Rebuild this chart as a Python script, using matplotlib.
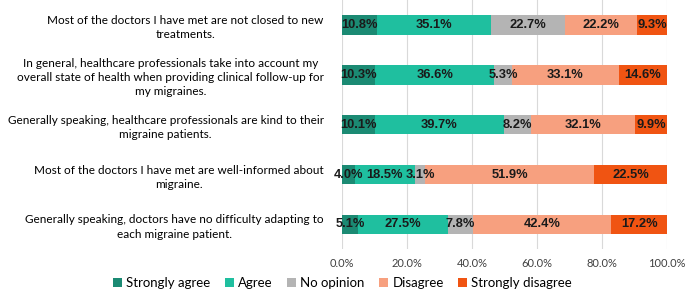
import matplotlib.pyplot as plt
import numpy as np

statements = [
    "Most of the doctors I have met are not closed to new\ntreatments.",
    "In general, healthcare professionals take into account my\noverall state of health when providing clinical follow-up for\nmy migraines.",
    "Generally speaking, healthcare professionals are kind to their\nmigraine patients.",
    "Most of the doctors I have met are well-informed about\nmigraine.",
    "Generally speaking, doctors have no difficulty adapting to\neach migraine patient.",
]
categories = ["Strongly agree", "Agree", "No opinion", "Disagree", "Strongly disagree"]
strongly_agree = [10.8, 10.3, 10.1, 4.0, 5.1]
agree = [35.1, 36.6, 39.7, 18.5, 27.5]
no_opinion = [22.7, 5.3, 8.2, 3.1, 7.8]
disagree = [22.2, 33.1, 32.1, 51.9, 42.4]
strongly_disagree = [9.3, 14.6, 9.9, 22.5, 17.2]
colors = ["#1b8a73", "#1fbf9f", "#b4b4b4", "#f7a07f", "#f05412"]

series = [strongly_agree, agree, no_opinion, disagree, strongly_disagree]

fig = plt.figure(figsize=(6.85, 2.98), dpi=100)
ax = fig.add_axes([0.499, 0.163, 0.475, 0.837])

y = np.arange(len(statements))
left = np.zeros(len(statements))
for vals, name, c in zip(series, categories, colors):
    vals = np.array(vals)
    ax.barh(y, vals, left=left, height=0.39, color=c, label=name, zorder=2)
    for yi, l, v in zip(y, left, vals):
        ax.text(l + v / 2, yi, f"{v:.1f}%", ha="center", va="center",
                fontsize=9.3, fontweight="bold", family="Liberation Sans",
                color="#1a1a1a", zorder=3)
    left += vals

ax.set_xlim(0, 100)
ax.set_ylim(len(statements) - 0.5, -0.5)
ax.set_xticks(np.arange(0, 101, 20))
ax.set_xticklabels([f"{t:.1f}%" for t in range(0, 101, 20)],
                   family="Lato", fontsize=8, color="#404040")
ax.set_yticks(y)
ax.set_yticklabels(statements, family="Lato", fontsize=8.5, ha="right",
                   multialignment="center", linespacing=1.35)
ax.tick_params(axis="y", length=0, pad=13)
ax.tick_params(axis="x", length=0, pad=6)
ax.grid(axis="x", color="#d9d9d9", lw=0.8, zorder=0)
for s in ax.spines.values():
    s.set_visible(False)

leg = fig.legend(loc="lower center", bbox_to_anchor=(0.5, -0.01), ncol=5,
                 frameon=False, prop={"family": "Lato", "size": 9.5},
                 handlelength=0.7, handleheight=0.7, handletextpad=0.3,
                 columnspacing=1.1)

fig.savefig("out.png", dpi=100)
